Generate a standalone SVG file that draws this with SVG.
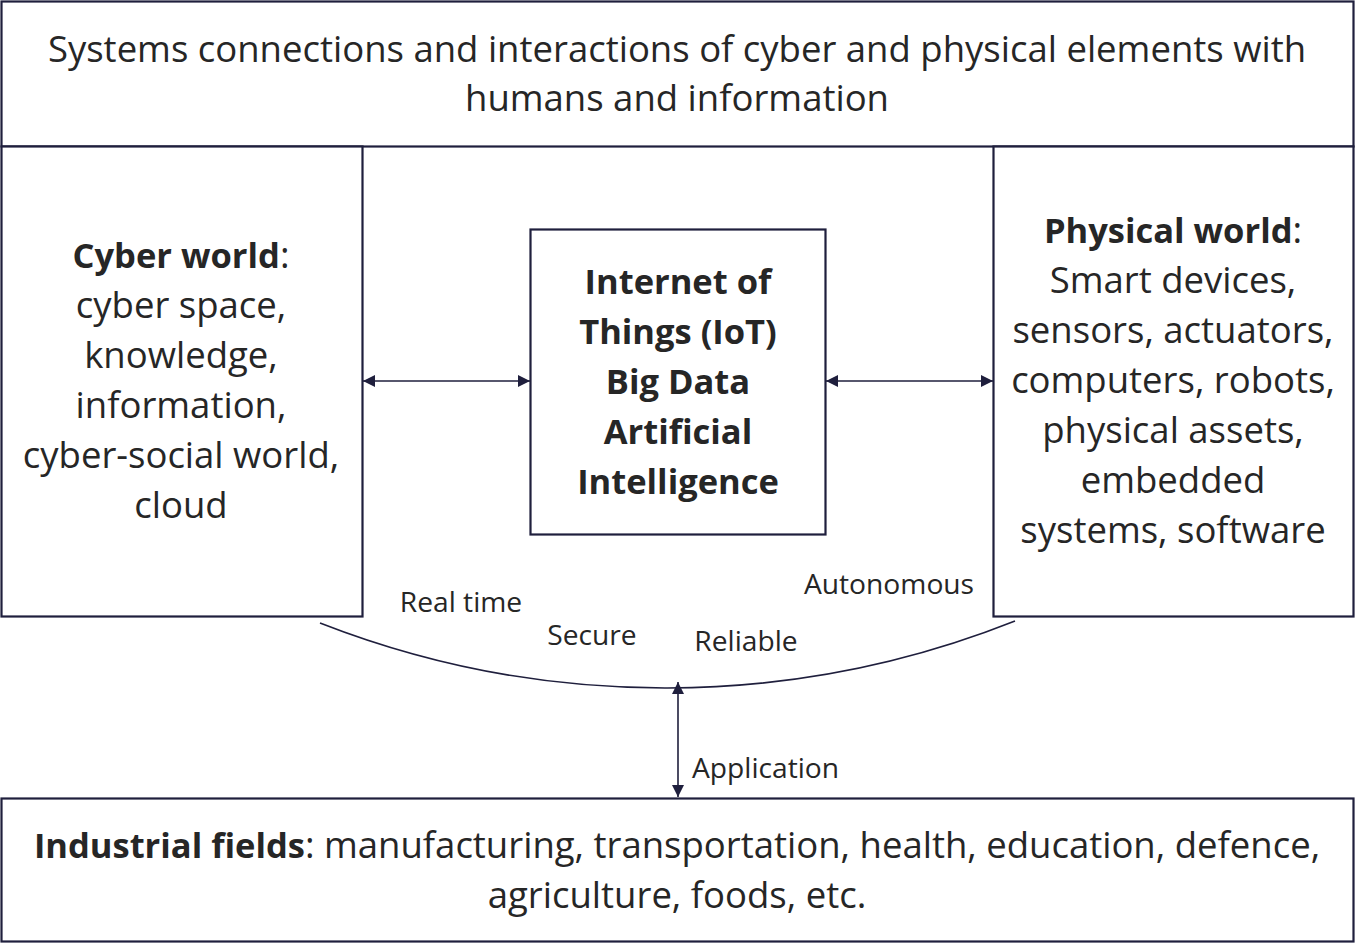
<svg xmlns="http://www.w3.org/2000/svg" width="1355" height="945" viewBox="0 0 1355 945">
<style>
.box{fill:#fff;stroke:#1f1f3d;stroke-width:2.2}
.t{font-family:"Open Sans","Noto Sans",sans-serif;fill:#262626;text-anchor:middle}
.big{font-size:36.5px}
.bold{font-weight:bold;font-size:34.5px}
.sm{font-size:28.2px}
.con{fill:none;stroke:#1f1f3d;stroke-width:1.6}
</style>
<defs>
<marker id="ah" viewBox="0 0 10 10" refX="10" refY="5" markerWidth="13" markerHeight="12" markerUnits="userSpaceOnUse" orient="auto-start-reverse">
<path d="M0,0 L10,5 L0,10 z" fill="#1f1f3d"/>
</marker>
</defs>
<rect width="1355" height="945" fill="#fff"/>
<g id="top">
<rect class="box" x="1.5" y="1.5" width="1352" height="145"/>
<text class="t big" x="677" y="62">Systems connections and interactions of cyber and physical elements with</text>
<text class="t big" x="677" y="111">humans and information</text>
</g>
<g id="cyber">
<rect class="box" x="1.5" y="146.5" width="361" height="470"/>
<text class="t big" x="181" y="268"><tspan class="bold">Cyber world</tspan>:</text>
<text class="t big" x="181" y="318">cyber space,</text>
<text class="t big" x="181" y="368">knowledge,</text>
<text class="t big" x="181" y="418">information,</text>
<text class="t big" x="181" y="468">cyber-social world,</text>
<text class="t big" x="181" y="518">cloud</text>
</g>
<g id="physical">
<rect class="box" x="993.5" y="146.5" width="360" height="470"/>
<text class="t big" x="1173" y="243"><tspan class="bold">Physical world</tspan>:</text>
<text class="t big" x="1173" y="293">Smart devices,</text>
<text class="t big" x="1173" y="343">sensors, actuators,</text>
<text class="t big" x="1173" y="393">computers, robots,</text>
<text class="t big" x="1173" y="443">physical assets,</text>
<text class="t big" x="1173" y="493">embedded</text>
<text class="t big" x="1173" y="543">systems, software</text>
</g>
<g id="center">
<rect class="box" x="530.5" y="229.5" width="295" height="305"/>
<text class="t bold" x="678" y="294">Internet of</text>
<text class="t bold" x="678" y="344">Things (IoT)</text>
<text class="t bold" x="678" y="394">Big Data</text>
<text class="t bold" x="678" y="444">Artificial</text>
<text class="t bold" x="678" y="494">Intelligence</text>
</g>
<g id="industrial">
<rect class="box" x="1.5" y="798.5" width="1352" height="143"/>
<text class="t big" x="677" y="858"><tspan class="bold">Industrial fields</tspan>: manufacturing, transportation, health, education, defence,</text>
<text class="t big" x="677" y="908">agriculture, foods, etc.</text>
</g>
<g id="labels">
<text class="t sm" x="461" y="612">Real time</text>
<text class="t sm" x="592" y="645">Secure</text>
<text class="t sm" x="746" y="651">Reliable</text>
<text class="t sm" x="889" y="594">Autonomous</text>
<text class="t sm" x="692" y="778" style="text-anchor:start">Application</text>
</g>
<g id="connectors">
<path class="con" d="M320,623 A948,948 0 0 0 1015,621"/>
<line class="con" x1="363" y1="381" x2="530" y2="381" marker-start="url(#ah)" marker-end="url(#ah)"/>
<line class="con" x1="826" y1="381" x2="993" y2="381" marker-start="url(#ah)" marker-end="url(#ah)"/>
<line class="con" x1="678" y1="682" x2="678" y2="797" marker-start="url(#ah)" marker-end="url(#ah)"/>
</g>
</svg>
